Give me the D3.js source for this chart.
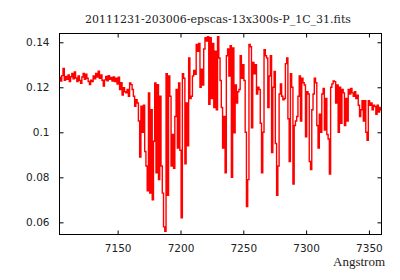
<!DOCTYPE html>
<html>
<head>
<meta charset="utf-8">
<script src="https://cdn.jsdelivr.net/npm/d3@7"></script>
<style>
  body { margin: 0; background: #fff; }
</style>
</head>
<body>
<div id="chart"></div>
<script>
var chartTitle = "20111231-203006-epscas-13x300s-P_1C_31.fits";
var xLabel = "Angstrom";
var xTicks = [7150, 7200, 7250, 7300, 7350];
var yTicks = [0.06, 0.08, 0.1, 0.12, 0.14];

// wavelength (Angstrom) and flux
var wavelength = [
  7104,7105,7106,7107,7108,7109,7110,7111,7112,7113,
  7114,7115,7116,7117,7118,7119,7120,7121,7122,7123,
  7124,7125,7126,7127,7128,7129,7130,7131,7132,7133,
  7134,7135,7136,7137,7138,7139,7140,7141,7142,7143,
  7144,7145,7146,7147,7148,7149,7150,7151,7152,7153,
  7154,7155,7156,7157,7158,7159,7160,7161,7162,7163,
  7164,7165,7166,7167,7168,7169,7170,7171,7172,7173,
  7174,7175,7176,7177,7178,7179,7180,7181,7182,7183,
  7184,7185,7186,7187,7188,7189,7190,7191,7192,7193,
  7194,7195,7196,7197,7198,7199,7200,7201,7202,7203,
  7204,7205,7206,7207,7208,7209,7210,7211,7212,7213,
  7214,7215,7216,7217,7218,7219,7220,7221,7222,7223,
  7224,7225,7226,7227,7228,7229,7230,7231,7232,7233,
  7234,7235,7236,7237,7238,7239,7240,7241,7242,7243,
  7244,7245,7246,7247,7248,7249,7250,7251,7252,7253,
  7254,7255,7256,7257,7258,7259,7260,7261,7262,7263,
  7264,7265,7266,7267,7268,7269,7270,7271,7272,7273,
  7274,7275,7276,7277,7278,7279,7280,7281,7282,7283,
  7284,7285,7286,7287,7288,7289,7290,7291,7292,7293,
  7294,7295,7296,7297,7298,7299,7300,7301,7302,7303,
  7304,7305,7306,7307,7308,7309,7310,7311,7312,7313,
  7314,7315,7316,7317,7318,7319,7320,7321,7322,7323,
  7324,7325,7326,7327,7328,7329,7330,7331,7332,7333,
  7334,7335,7336,7337,7338,7339,7340,7341,7342,7343,
  7344,7345,7346,7347,7348,7349,7350,7351,7352,7353,
  7354,7355,7356,7357,7358,7359,7360
];

var flux = [
  0.1245,0.1228,0.1252,0.1284,0.1231,0.1248,0.1236,0.1255,0.1226,0.1247,
  0.1262,0.1238,0.1268,0.1241,0.1225,0.1250,0.1230,0.1218,0.1246,0.1262,
  0.1235,0.1258,0.1240,0.1226,0.1212,0.1232,0.1225,0.1250,0.1238,0.1262,
  0.1245,0.1272,0.1240,0.1255,0.1231,0.1206,0.1233,0.1248,0.1229,0.1252,
  0.1236,0.1244,0.1228,0.1246,0.1225,0.1240,0.1214,0.1245,0.1190,0.1220,
  0.1165,0.1198,0.1180,
  0.1175,0.1190,0.1160,0.1219,0.1212,0.1190,0.1160,0.1116,0.1145,0.1130,
  0.1050,0.0890,0.1116,0.1000,0.1120,0.0915,0.0850,0.0740,0.1175,0.0730,
  0.1100,0.0700,0.0960,0.1219,0.0820,0.1212,0.0790,0.1160,0.0850,0.0730,
  0.0580,0.0560,0.1260,0.0720,0.1250,0.1160,0.0850,0.0990,0.0840,0.1070,
  0.1190,0.0930,0.1219,0.0920,0.0620,0.1260,0.1240,0.0860,0.1130,0.0940,
  0.1330,0.1150,
  0.1160,0.1250,0.1275,0.1258,0.1390,0.1360,0.1395,0.1200,0.1280,0.1210,
  0.1370,0.1420,0.1405,0.1425,0.1125,0.1420,0.1150,0.1395,0.1110,0.1360,
  0.1100,0.1425,0.1330,0.1230,0.1110,0.0930,0.1070,0.0820,0.1340,0.1370,
  0.1250,0.1385,0.0800,0.1375,0.0998,0.1210,0.1130,0.1180,0.1190,0.1340,
  0.1240,0.1300,0.1230,0.1000,0.0670,0.0790,0.1390,0.1380,0.1020,0.1310,
  0.1260,
  0.1300,0.1170,0.1200,0.1190,0.1040,0.0820,0.1000,0.1367,0.1340,0.1330,
  0.1110,0.1250,0.1340,0.0910,0.1200,0.1270,0.0950,0.0720,0.0850,0.1170,
  0.1215,0.1160,0.1145,0.1150,0.1305,0.1330,0.1060,0.0870,0.1260,0.1200,
  0.0770,0.1030,0.1050,0.1070,0.1160,0.1250,0.1050,0.1240,0.1220,0.1210,
  0.0980,0.1180,0.1170,0.0870,0.0835,0.1100,0.1170,0.1240,0.1220,0.1030,
  0.0930,0.1080,0.1000,0.1170,0.1195,0.1010,0.1150,0.0990,0.0970,0.0815,
  0.1200,0.1215,0.1228,0.1225,0.1130,0.1210,0.1000,0.1200,0.1040,0.1190,
  0.1175,0.1030,0.1150,0.1050,0.1190,0.1170,0.1195,0.1175,0.1160,0.1180,
  0.1150,0.1165,0.1120,0.1070,0.1100,0.1140,0.1050,0.1140,0.1000,0.0965,
  0.1140,0.1120,0.1130,0.1100,0.1120,0.1115,0.1080,0.1120,0.1090,0.1110,
  0.1100
];

var width = 400;
var height = 280;
// plot box (half pixels so the 1px frame stays sharp)
var boxLeft = 59.5, boxRight = 381.5, boxTop = 33.5, boxBottom = 234.5;

var x = d3.scaleLinear().domain([7103.7, 7360]).range([boxLeft, boxRight]);
var y = d3.scaleLinear().domain([0.0546, 0.1439]).range([boxBottom, boxTop]);

var svg = d3.select("#chart")
  .append("svg")
  .attr("width", width)
  .attr("height", height);

svg.append("clipPath")
  .attr("id", "plotclip")
  .append("rect")
  .attr("x", boxLeft)
  .attr("y", boxTop)
  .attr("width", boxRight - boxLeft)
  .attr("height", boxBottom - boxTop);

var points = wavelength.map(function (w, i) { return [w, flux[i]]; });

var line = d3.line()
  .x(function (d) { return x(d[0]); })
  .y(function (d) { return y(d[1]); })
  .curve(d3.curveStep);

svg.append("path")
  .datum(points)
  .attr("clip-path", "url(#plotclip)")
  .attr("d", line)
  .style("fill", "none")
  .style("stroke", "#ff0000")
  .style("stroke-width", 1.4);

// ticks point inward on all four sides, labels only bottom and left
var fmt = function (d) { return String(+d.toFixed(2)); };

svg.append("g")
  .attr("transform", "translate(0," + boxBottom + ")")
  .call(d3.axisBottom(x).tickValues(xTicks).tickFormat(d3.format("d"))
    .tickSizeInner(-4).tickSizeOuter(0).tickPadding(10));
svg.append("g")
  .attr("transform", "translate(" + boxLeft + ",0)")
  .call(d3.axisLeft(y).tickValues(yTicks).tickFormat(fmt)
    .tickSizeInner(-4).tickSizeOuter(0).tickPadding(10));
svg.append("g")
  .attr("transform", "translate(0," + boxTop + ")")
  .call(d3.axisTop(x).tickValues(xTicks).tickFormat("").tickSizeInner(-4).tickSizeOuter(0));
svg.append("g")
  .attr("transform", "translate(" + boxRight + ",0)")
  .call(d3.axisRight(y).tickValues(yTicks).tickFormat("").tickSizeInner(-4).tickSizeOuter(0));

svg.selectAll(".domain").remove();
svg.selectAll(".tick line").style("stroke", "#000");
svg.selectAll(".tick text")
  .style("font-family", "'DejaVu Sans', sans-serif")
  .style("font-size", "10.5px")
  .style("fill", "#222");

svg.append("rect")
  .attr("x", boxLeft)
  .attr("y", boxTop)
  .attr("width", boxRight - boxLeft)
  .attr("height", boxBottom - boxTop)
  .style("fill", "none")
  .style("stroke", "#000")
  .style("stroke-width", 1);

svg.append("text")
  .attr("x", 218)
  .attr("y", 23)
  .attr("text-anchor", "middle")
  .style("font-family", "'DejaVu Serif', serif")
  .style("font-size", "11px")
  .style("fill", "#222")
  .text(chartTitle);

svg.append("text")
  .attr("x", 385)
  .attr("y", 266)
  .attr("text-anchor", "end")
  .style("font-family", "'Liberation Serif', serif")
  .style("font-size", "13px")
  .style("fill", "#222")
  .text(xLabel);
</script>
</body>
</html>
